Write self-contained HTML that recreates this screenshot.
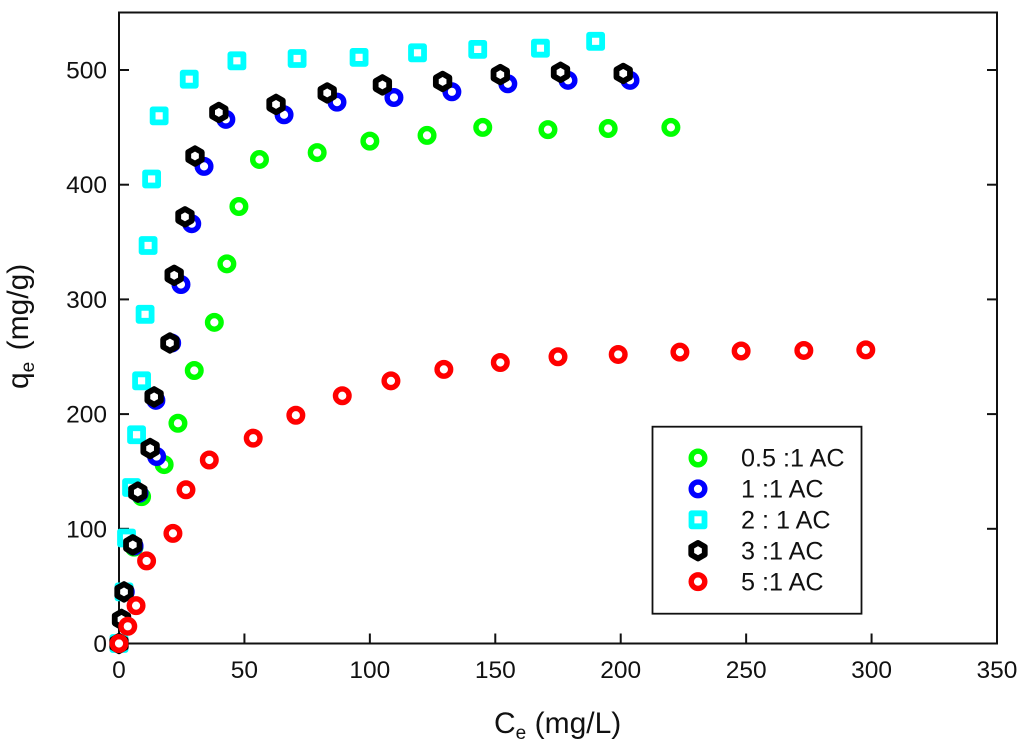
<!DOCTYPE html>
<html>
<head>
<meta charset="utf-8">
<style>
html,body{margin:0;padding:0;background:#fff;width:1024px;height:752px;overflow:hidden}
svg{display:block}
text{font-family:"Liberation Sans",sans-serif;fill:#111}
</style>
</head>
<body>
<svg id="chart" xmlns="http://www.w3.org/2000/svg" width="1024" height="752" viewBox="0 0 1024 752"></svg>
<script>
const xTicks = [0, 50, 100, 150, 200, 250, 300, 350];
const yTicks = [0, 100, 200, 300, 400, 500];
const seriesLabels = ['0.5 :1 AC', '1 :1 AC', '2 : 1 AC', '3 :1 AC', '5 :1 AC'];

const green05X = [0, 1, 2, 6, 9, 18, 23.5, 30, 38, 43, 47.8, 56, 79, 100, 122.8, 145, 171, 195, 220];
const green05Y = [0, 21, 45, 84, 128, 156, 192, 238, 280, 331, 381, 422, 428, 438, 443, 450, 448, 449, 450];

const blue1X = [0, 1.2, 2.5, 6, 8, 15, 14.7, 21, 24.7, 29, 33.9, 42.6, 65.8, 86.9, 109.6, 132.7, 155, 179, 203.7];
const blue1Y = [0, 21, 45, 85, 131, 163, 212, 262, 313, 366, 416, 457, 461, 472, 476, 481, 488, 491, 491];

const cyan2X = [0, 2, 3, 5, 7, 9, 10.4, 11.6, 13, 16, 28, 47, 71, 95.7, 119, 143, 168, 190];
const cyan2Y = [0, 45, 92, 136, 182, 229, 287, 347, 405, 460, 492, 508, 510, 511, 515, 518, 519, 525];

const black3X = [0, 1, 2, 5.5, 7.5, 12.4, 14, 20.3, 22, 26.3, 30.3, 39.8, 62.6, 83, 105, 129, 152, 176, 201];
const black3Y = [0, 21, 45, 86, 132, 170, 215, 262, 321, 372, 425, 463, 470, 480, 487, 490, 496, 498, 497];

const red5X = [0, 3.5, 6.8, 11, 21.5, 26.7, 36, 53.5, 70.5, 89, 108.4, 129.5, 152, 175, 199, 223.6, 248, 273, 297.7];
const red5Y = [0, 15, 33, 72, 96, 134, 160, 179, 199, 216, 229, 239, 245, 250, 252, 254, 255, 255.5, 256];

const NS = 'http://www.w3.org/2000/svg';
const svg = document.getElementById('chart');
const xScale = v => 119 + v * (997 - 119) / 350;
const yScale = v => 643.5 - v * 1.147;

function make(tag, attrs, parent) {
  const el = document.createElementNS(NS, tag);
  for (const k in attrs) el.setAttribute(k, attrs[k]);
  (parent || svg).appendChild(el);
  return el;
}

function circleMark(parent, cx, cy, color) {
  return make('circle', {cx: cx, cy: cy, r: 6.8, fill: '#fff', stroke: color, 'stroke-width': 5.4}, parent);
}
function squareMark(parent, cx, cy, color) {
  return make('rect', {x: cx - 6.5, y: cy - 6.5, width: 13, height: 13, fill: '#fff', stroke: color, 'stroke-width': 5.8, 'stroke-linejoin': 'round'}, parent);
}
function hexMark(parent, cx, cy, color) {
  const pts = [];
  for (let i = 0; i < 6; i++) {
    const a = Math.PI / 3 * i;
    pts.push((cx + 7.8 * Math.sin(a)).toFixed(2) + ',' + (cy - 7.8 * Math.cos(a)).toFixed(2));
  }
  return make('polygon', {points: pts.join(' '), fill: '#fff', stroke: color, 'stroke-width': 5.8, 'stroke-linejoin': 'round'}, parent);
}

/* plot frame */
const frame = make('rect', {x: 119, y: 12.5, width: 878, height: 631, fill: 'none', stroke: '#111', 'stroke-width': 2});



/* x axis */
const xAxis = make('g', {});


xTicks.forEach(v => {
  const tick = make('line', {x1: xScale(v), x2: xScale(v), y1: 643.5, y2: 633.5, stroke: '#111', 'stroke-width': 2}, xAxis);
  
  
  const label = make('text', {x: xScale(v), y: 678, 'text-anchor': 'middle', 'font-size': 24.5}, xAxis);
  
  
  label.textContent = v;
});

/* y axis */
const yAxis = make('g', {});


yTicks.forEach(v => {
  const tickL = make('line', {x1: 119, x2: 129, y1: yScale(v), y2: yScale(v), stroke: '#111', 'stroke-width': 2}, yAxis);
  
  
  const tickR = make('line', {x1: 987, x2: 997, y1: yScale(v), y2: yScale(v), stroke: '#111', 'stroke-width': 2}, yAxis);
  
  
  const label = make('text', {x: 107, y: yScale(v) + 8.5, 'text-anchor': 'end', 'font-size': 24.5}, yAxis);
  
  
  label.textContent = v;
});

/* series */
const plots = [
  {name: 'series-0-5-to-1', xs: green05X, ys: green05Y, color: '#00ff00', mark: circleMark},
  {name: 'series-1-to-1', xs: blue1X, ys: blue1Y, color: '#0000ff', mark: circleMark},
  {name: 'series-2-to-1', xs: cyan2X, ys: cyan2Y, color: '#00ffff', mark: squareMark},
  {name: 'series-3-to-1', xs: black3X, ys: black3Y, color: '#000000', mark: hexMark},
  {name: 'series-5-to-1', xs: red5X, ys: red5Y, color: '#ff0000', mark: circleMark}
];
plots.forEach(p => {
  const g = make('g', {});
  
  
  p.xs.forEach((xv, i) => {
    const m = p.mark(g, xScale(xv), yScale(p.ys[i]), p.color);
    
    
  });
});

/* legend */
const legend = make('g', {});


const legendBox = make('rect', {x: 652.5, y: 426.7, width: 209, height: 187, fill: '#fff', stroke: '#111', 'stroke-width': 1.8}, legend);


const legendTop = 458, legendStep = 30.9;
plots.forEach((p, i) => {
  const ly = legendTop + i * legendStep;
  const m = p.mark(legend, 698, ly, p.color);
  
  
  const t = make('text', {x: 741, y: ly + 8.7, 'font-size': 25.2}, legend);
  
  
  t.textContent = seriesLabels[i];
});

/* axis titles */
const xTitle = make('text', {x: 494, y: 733, 'font-size': 30});


xTitle.innerHTML = 'C<tspan font-size="19" dy="6">e</tspan><tspan dy="-6"> (mg/L)</tspan>';

const yTitle = make('text', {x: 0, y: 0, 'font-size': 30, transform: 'translate(28,389) rotate(-90)'});


yTitle.innerHTML = 'q<tspan font-size="19" dy="6">e</tspan><tspan dy="-6" dx="3"> (mg/g)</tspan>';
</script>
</body>
</html>
